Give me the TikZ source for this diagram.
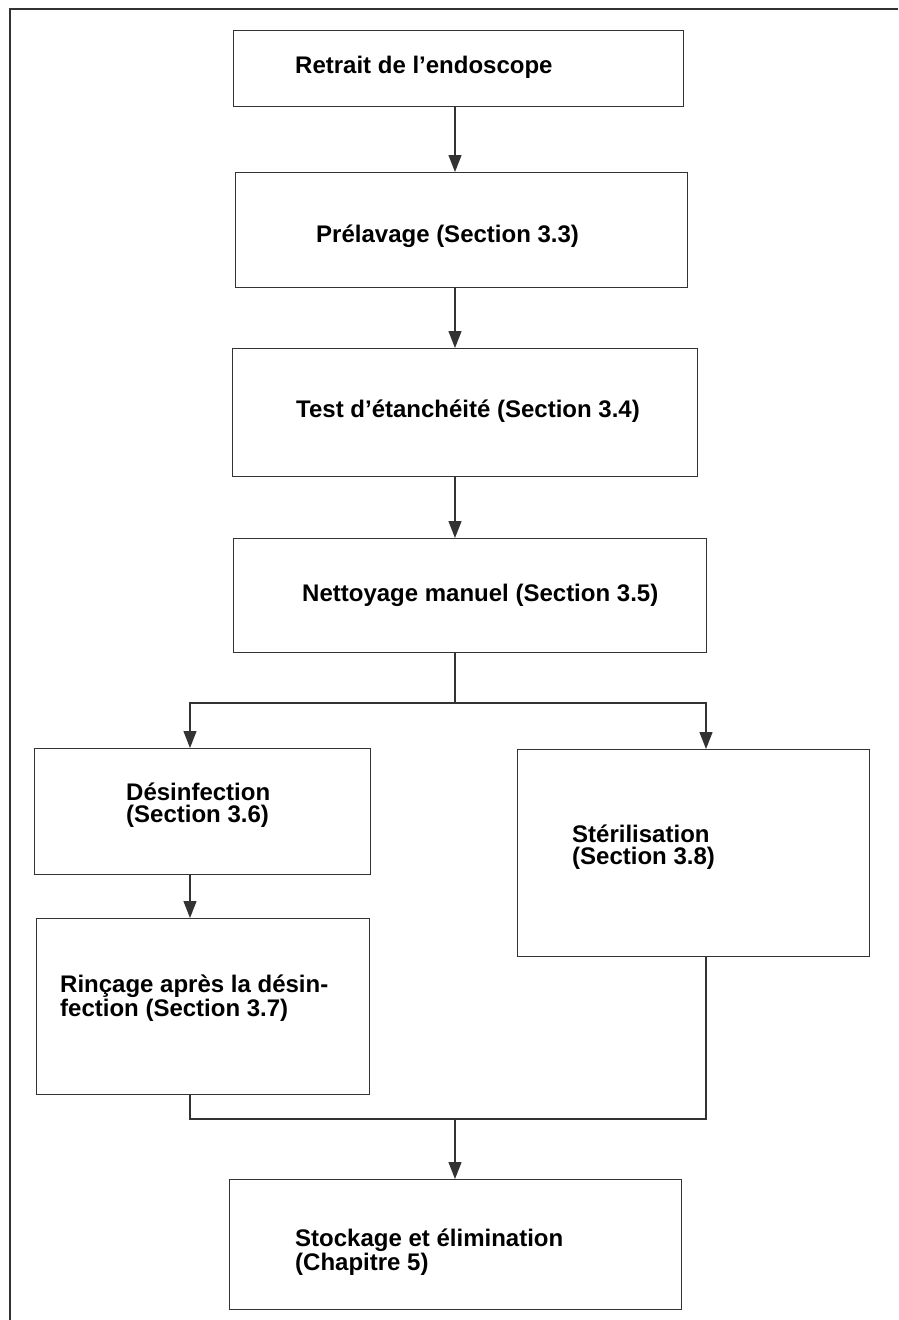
\documentclass[tikz,border=0pt]{standalone}
\usepackage{fontspec}
\setmainfont{Liberation Sans}
\usepackage{xcolor}
\usepackage{tikz}
\usetikzlibrary{arrows.meta}

\tikzset{
  stepbox/.style={draw=black!80, line width=1.4pt, anchor=north west, inner sep=0pt},
  steptext/.style={anchor=base west, inner sep=0pt, align=left, font=\fontsize{24}{22}\selectfont\bfseries},
  flow/.style={draw=black!80, line width=1.3pt},
  flowarrow/.style={flow, -{Triangle[length=17pt,width=13pt]}}
}

\begin{document}
\begin{tikzpicture}[x=1pt, y=-1pt]
\useasboundingbox (0,0) rectangle (898,1320);
\draw[flow, line width=1.6pt] (10,1320) -- (10,9) -- (898,9);

\coordinate (spine) at (455,0);
\coordinate (lane-l) at (190,0);
\coordinate (lane-r) at (706,0);
\coordinate (fork) at (455,703);
\coordinate (merge) at (455,1119);

\node[stepbox, minimum width=450pt, minimum height=76pt] (retrait) at (233,30) {};
\node[stepbox, minimum width=452pt, minimum height=115pt] (prelav) at (235,172) {};
\node[stepbox, minimum width=465pt, minimum height=128pt] (test) at (232,348) {};
\node[stepbox, minimum width=473pt, minimum height=114pt] (nett) at (233,538) {};
\node[stepbox, minimum width=336pt, minimum height=126pt] (desinf) at (34,748) {};
\node[stepbox, minimum width=333pt, minimum height=176pt] (rinc) at (36,918) {};
\node[stepbox, minimum width=352pt, minimum height=207pt] (steril) at (517,749) {};
\node[stepbox, minimum width=452pt, minimum height=130pt] (stock) at (229,1179) {};

% base anchor sits on the last line
\node[steptext] (retrait-t) at (295,73) {Retrait de l’endoscope};
\node[steptext] (prelav-t) at (316,242) {Prélavage (Section 3.3)};
\node[steptext] (test-t) at (296,417) {Test d’étanchéité (Section 3.4)};
\node[steptext] (nett-t) at (302,601) {Nettoyage manuel (Section 3.5)};
\node[steptext] (desinf-t) at (126,822) {Désinfection\\(Section 3.6)};
\node[steptext] (rinc-t) at (60,1016) {Rinçage après la désin-\\fection (Section 3.7)};
\node[steptext] (steril-t) at (572,864) {Stérilisation\\(Section 3.8)};
\node[steptext] (stock-t) at (295,1270) {Stockage et élimination\\(Chapitre 5)};

\draw[flowarrow] (retrait.south -| spine) -- (prelav.north -| spine);
\draw[flowarrow] (prelav.south -| spine) -- (test.north -| spine);
\draw[flowarrow] (test.south -| spine) -- (nett.north -| spine);
\draw[flow] (nett.south -| spine) -- (fork);
\draw[flowarrow] (fork) -| (desinf.north -| lane-l);
\draw[flowarrow] (fork) -| (steril.north -| lane-r);
\draw[flowarrow] (desinf.south -| lane-l) -- (rinc.north -| lane-l);
\draw[flow] (rinc.south -| lane-l) |- (merge) -| (steril.south -| lane-r);
\draw[flowarrow] (merge) -- (stock.north -| spine);
\end{tikzpicture}
\end{document}
